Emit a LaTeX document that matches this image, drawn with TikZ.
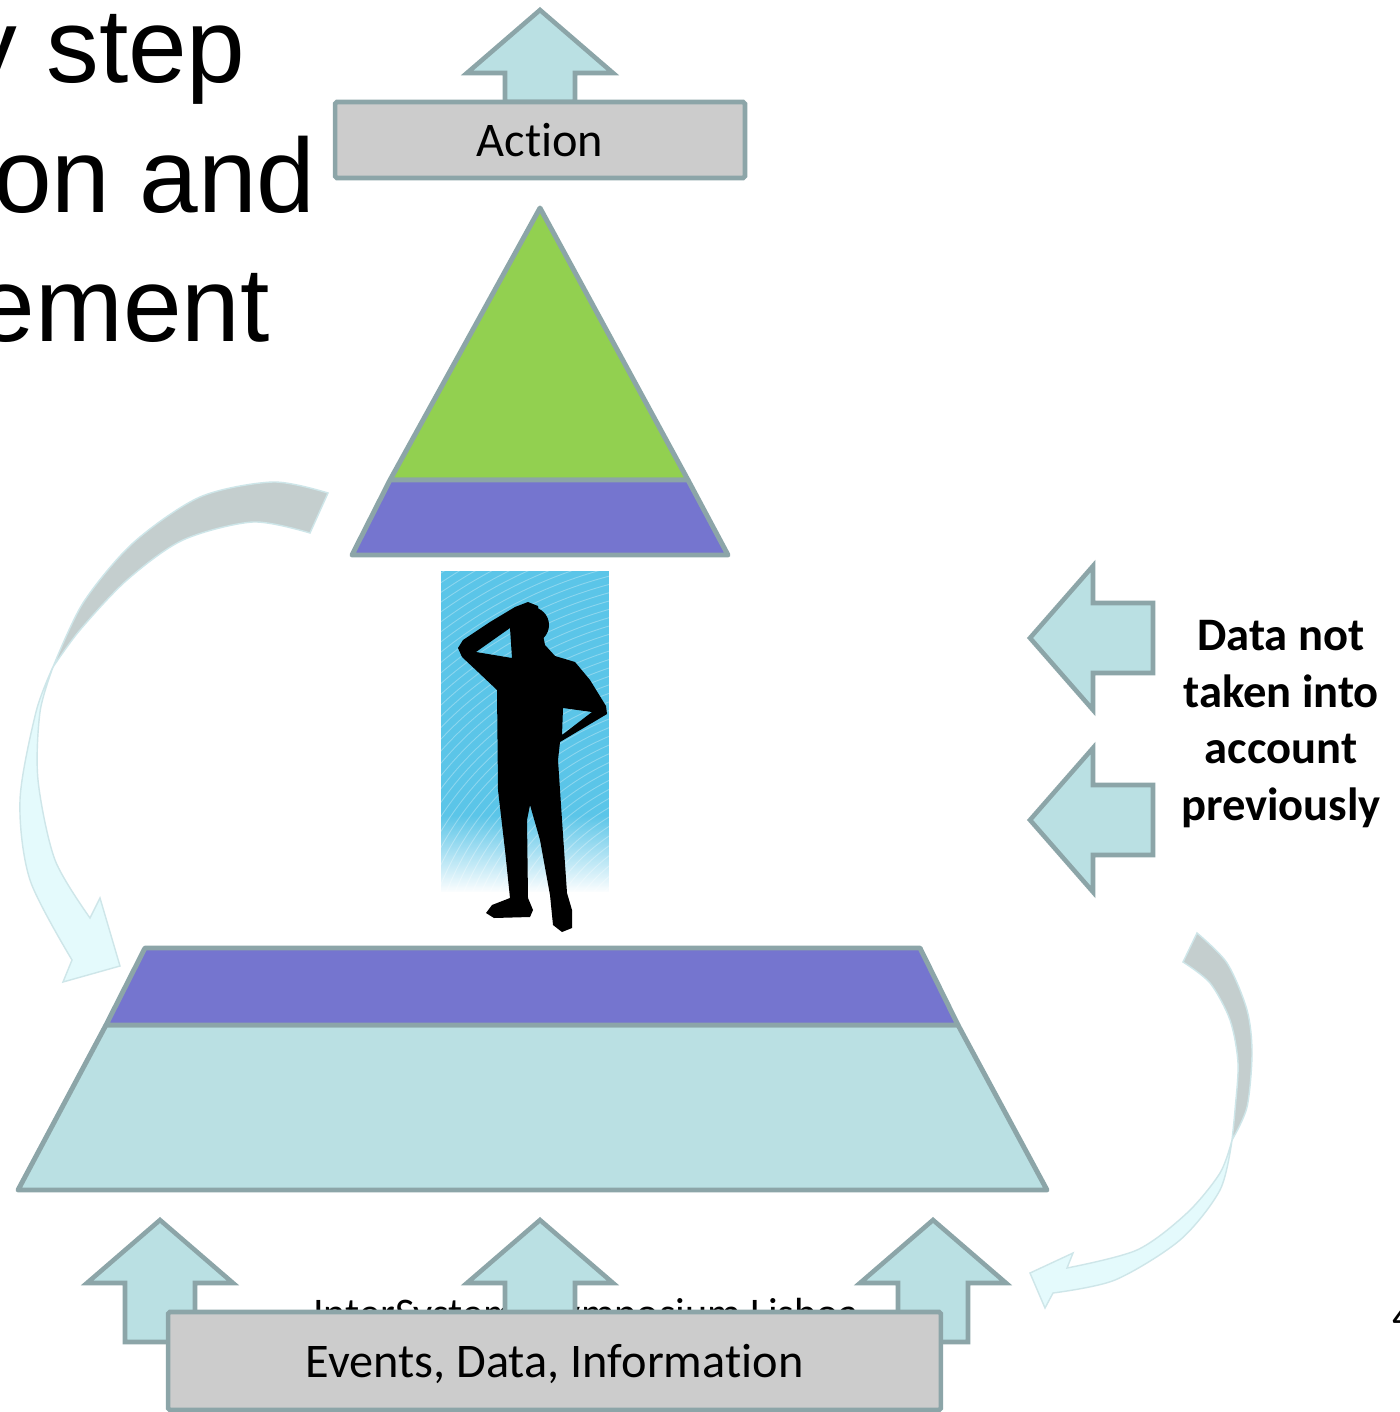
\documentclass[tikz,border=0pt]{standalone}
\usepackage{fontspec}
\setmainfont{Carlito}[Ligatures=NoCommon]
\newfontfamily\headfont{Liberation Sans}
\usetikzlibrary{fadings}

\definecolor{rimgray}{RGB}{140,165,168}
\definecolor{pyrteal}{RGB}{186,224,227}
\definecolor{pyrgreen}{RGB}{146,208,80}
\definecolor{pyrviolet}{RGB}{117,117,207}
\definecolor{boxgray}{RGB}{204,204,204}
\definecolor{skyblue}{RGB}{91,197,232}
\definecolor{loopgray}{RGB}{196,206,206}
\definecolor{loopcyan}{RGB}{228,250,252}
\definecolor{loopedge}{RGB}{206,230,233}

% block arrow pointing up: tip x, tip y, shaft bottom y
\newcommand{\upblock}[3]{%
  \filldraw[blockarrow] (#1,#2) -- (#1+73,#2-63) -- (#1+35,#2-63) -- (#1+35,#3)
    -- (#1-35,#3) -- (#1-35,#2-63) -- (#1-73,#2-63) -- cycle;}
% block arrow pointing left: tip x, tip y, shaft end x
\newcommand{\leftblock}[3]{%
  \filldraw[blockarrow] (#1,#2) -- (#1+63,#2+72) -- (#1+63,#2+35) -- (#3,#2+35)
    -- (#3,#2-35) -- (#1+63,#2-35) -- (#1+63,#2-72) -- cycle;}

\begin{document}
\begin{tikzpicture}[x=0.02cm, y=0.02cm,
    rim/.style={draw=rimgray, line width=2.8pt, line join=round},
    blockarrow/.style={fill=pyrteal, draw=rimgray, line width=2.6pt, line join=miter},
    labelbox/.style={draw=rimgray, fill=boxgray, line width=2.6pt, rounded corners=1pt,
      text depth=0pt, font=\fontsize{27.5}{32}\selectfont},
    loopback/.style={fill=loopgray, draw=loopedge, line width=0.8pt},
    loophead/.style={fill=loopcyan, draw=loopedge, line width=0.8pt}]
  \tikzstyle{every node}+=[inner sep=0pt]
  \useasboundingbox (0,0) rectangle (1399,-1412);
  \fill[white] (0,0) rectangle (1399,-1412);

  % slide title, cut by the left edge
  \node[anchor=base east, font=\headfont\fontsize{60}{72}\selectfont] (title1) at (246,-83) {y step};
  \node[anchor=base east, font=\headfont\fontsize{60}{72}\selectfont] (title2) at (316,-213) {on and};
  \node[anchor=base east, font=\headfont\fontsize{60}{72}\selectfont] (title3) at (270,-341) {ement};

  % curved arrow on the left
  \filldraw[loopback] plot[smooth] coordinates {(328,-493) (273,-482) (200,-497) (133,-543) (83,-603) (53,-667)}
    -- plot[smooth] coordinates {(53,-667) (80,-630) (127,-580) (183,-540) (253,-522) (310,-533)} -- cycle;
  \filldraw[loophead] plot[smooth] coordinates {(53,-667) (36,-712) (20,-800) (30,-880) (72,-960)}
    -- (63,-982) -- (120,-966) -- (100,-898) -- (90,-918)
    -- plot[smooth] coordinates {(90,-918) (55,-860) (38,-780) (40,-712) (53,-667)} -- cycle;

  % curved arrow on the right
  \filldraw[loopback] plot[smooth] coordinates {(1197,-933) (1227,-963) (1247,-1010) (1252,-1053) (1247,-1107) (1232,-1140)}
    -- plot[smooth] coordinates {(1232,-1140) (1235,-1110) (1238,-1063) (1230,-1020) (1210,-983) (1183,-962)} -- cycle;
  \filldraw[loophead] plot[smooth] coordinates {(1232,-1140) (1220,-1190) (1180,-1240) (1115,-1280) (1053,-1293)}
    -- (1045,-1308) -- (1030,-1273) -- (1073,-1253) -- (1067,-1268)
    -- plot[smooth] coordinates {(1067,-1268) (1137,-1250) (1187,-1213) (1220,-1173) (1232,-1140)} -- cycle;

  % upper pyramid
  \filldraw[rim, fill=pyrgreen] (540,-208) -- (390,-480) -- (688,-480) -- cycle;
  \filldraw[rim, fill=pyrviolet] (390,-480) -- (688,-480) -- (728,-555) -- (352,-555) -- cycle;

  % lower pyramid
  \filldraw[rim, fill=pyrteal] (106,-1025) -- (958,-1025) -- (1047,-1190) -- (18,-1190) -- cycle;
  \filldraw[rim, fill=pyrviolet] (145,-948) -- (920,-948) -- (958,-1025) -- (106,-1025) -- cycle;

  % picture of the thinking man
  \begin{scope}
    \clip (441,-571) rectangle (609,-892);
    \fill[skyblue] (441,-571) rectangle (609,-892);
    \foreach \r in {150,158,...,520}
      \draw[white, opacity=0.3, line width=0.5pt] (720,-1000) circle (\r);
    \fill[white, path fading=north] (441,-815) rectangle (609,-893);
  \end{scope}
  \fill[black, even odd rule] (478,-672) -- (462,-657) -- (458,-648) -- (463,-640) -- (490,-622)
      -- (515,-607) -- (528,-602) -- (538,-606) -- (540,-620) -- (545,-645) -- (555,-656)
      -- (575,-662) -- (590,-680) -- (606,-706) -- (607,-714) -- (560,-742) -- (558,-760)
      -- (562,-820) -- (567,-893) -- (572,-910) -- (572,-928) -- (562,-932) -- (553,-925)
      -- (550,-895) -- (540,-840) -- (530,-805) -- (527,-820) -- (528,-898) -- (533,-910)
      -- (530,-917) -- (494,-918) -- (486,-913) -- (492,-905) -- (510,-898) -- (505,-850)
      -- (498,-790) -- (497,-690) -- cycle
    (476,-652) -- (510,-628) -- (512,-658) -- cycle
    (563,-708) -- (592,-712) -- (562,-735) -- cycle;
  \fill[black] (531,-625) circle (18);

  % data coming in from the right
  \leftblock{1030}{-638}{1153}
  \leftblock{1030}{-820}{1153}
  \node[align=center, font=\bfseries\fontsize{26.5}{32.3}\selectfont] (newdata) at (1281,-724)
    {Data not\\taken into\\account\\previously};

  % footer line, mostly hidden under the input box
  \node[anchor=base west, font=\fontsize{24}{28}\selectfont] (footer) at (313,-1327) {InterSystems Symposium Lisboa};
  \node[anchor=base west, font=\fontsize{24}{28}\selectfont] (pageno) at (1392,-1330) {4};

  % top and bottom boxes with their arrows
  \upblock{540}{-10}{-102}
  \node[labelbox, minimum width=8.2cm, minimum height=1.52cm] (action) at (540,-140) {Action};
  \upblock{160}{-1220}{-1342}
  \upblock{540}{-1220}{-1342}
  \upblock{933}{-1220}{-1342}
  \node[labelbox, minimum width=15.46cm, minimum height=1.96cm] (events) at (554.5,-1361) {Events, Data, Information};
\end{tikzpicture}
\end{document}
